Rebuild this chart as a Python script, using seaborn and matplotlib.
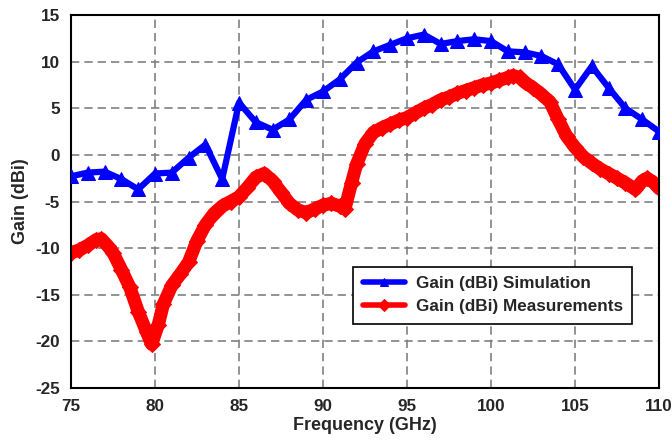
import matplotlib
matplotlib.use("Agg")
import matplotlib.pyplot as plt
import seaborn as sns
import pandas as pd

# Simulation data (markers every 1 GHz)
freq_sim = [75, 76, 77, 78, 79, 80, 81, 82, 83, 84, 85, 86, 87, 88, 89, 90, 91, 92,
            93, 94, 95, 96, 97, 98, 99, 100, 101, 102, 103, 104, 105, 106, 107, 108,
            109, 110]
gain_sim = [-2.3, -1.9, -1.8, -2.6, -3.7, -2.0, -1.9, -0.3, 1.1, -2.6, 5.6, 3.5, 2.7,
            3.8, 5.9, 6.8, 8.1, 9.9, 11.1, 11.8, 12.5, 12.9, 11.9, 12.2, 12.4, 12.2,
            11.1, 11.0, 10.6, 9.7, 7.0, 9.5, 7.2, 5.0, 3.8, 2.5]

# Measurement data
freq_meas = [75, 75.5, 76, 76.5, 76.8, 77.2, 77.5, 78, 78.5, 79, 79.5, 79.8, 80.2,
             80.5, 81, 81.5, 82, 82.5, 83, 83.5, 84, 84.5, 85, 85.5, 86, 86.5, 87,
             87.5, 88, 88.5, 89, 89.5, 90, 90.5, 91, 91.3, 91.7, 92, 92.5, 93, 93.5,
             94, 94.5, 95, 95.5, 96, 96.5, 97, 97.5, 98, 98.5, 99, 99.5, 100, 100.5,
             101, 101.3, 101.7, 102, 102.5, 103, 103.5, 104, 104.5, 105, 105.5, 106,
             106.5, 107, 107.5, 108, 108.6, 109, 109.3, 109.7, 110]
gain_meas = [-10.5, -10.2, -9.7, -9.1, -9.0, -9.8, -10.5, -12.3, -14.2, -16.8, -19.0,
             -20.3, -18.2, -16.0, -14.0, -12.8, -11.5, -9.2, -7.5, -6.3, -5.5, -5.0,
             -4.5, -3.5, -2.4, -2.0, -2.8, -4.0, -5.2, -5.9, -6.2, -5.8, -5.4, -5.2,
             -5.5, -5.8, -3.0, -1.0, 1.2, 2.4, 2.9, 3.3, 3.7, 4.0, 4.5, 5.0, 5.4, 5.9,
             6.2, 6.6, 6.9, 7.2, 7.5, 7.7, 8.0, 8.3, 8.5, 8.3, 7.8, 7.2, 6.5, 5.7, 3.8,
             2.0, 0.8, -0.2, -0.9, -1.5, -2.0, -2.5, -3.0, -3.7, -2.8, -2.5, -3.0, -3.6]

x_ticks = [75, 80, 85, 90, 95, 100, 105, 110]
y_ticks = [15, 10, 5, 0, -5, -10, -15, -20, -25]

sns.set_style("white")
plt.rcParams['font.family'] = ['Liberation Sans', 'DejaVu Sans']
plt.rcParams['font.weight'] = 'bold'
plt.rcParams['axes.unicode_minus'] = False

fig = plt.figure(figsize=(6.72, 4.43), dpi=100)
ax = fig.add_axes([71/672, 1-388/443, 588/672, 373/443])

df_sim = pd.DataFrame({"f": freq_sim, "g": gain_sim})
df_meas = pd.DataFrame({"f": freq_meas, "g": gain_meas})

sns.lineplot(data=df_sim, x="f", y="g", ax=ax, color="#0000FF", linewidth=4.5,
             marker="^", markersize=10, markeredgecolor="#0000FF",
             label="Gain (dBi) Simulation", zorder=3)
sns.lineplot(data=df_meas, x="f", y="g", ax=ax, color="#FF0000", linewidth=9.5,
             marker="D", markersize=8, markeredgecolor="#FF0000",
             label="Gain (dBi) Measurements", zorder=2)

ax.set_xlim(75, 110)
ax.set_ylim(-25, 15)
ax.set_xticks(x_ticks)
ax.set_yticks(y_ticks)
ax.grid(True, color="#808080", linestyle=(0, (5, 3)), linewidth=1.2)
ax.set_axisbelow(True)
for s in ax.spines.values():
    s.set_color("black")
    s.set_linewidth(1.5)
    s.set_visible(True)
ax.tick_params(axis="both", direction="out", length=5, width=1.2, color="black",
               labelsize=12.3, pad=3)
for lab in ax.get_xticklabels() + ax.get_yticklabels():
    lab.set_fontweight("bold")

ax.set_xlabel("Frequency (GHz)", fontsize=13, fontweight="bold", labelpad=2)
ax.set_ylabel("Gain (dBi)", fontsize=13, fontweight="bold", labelpad=4)

leg = ax.legend(loc="lower left", bbox_to_anchor=(0.48, 0.172), borderaxespad=0,
                fancybox=False, edgecolor="black", framealpha=1, fontsize=12.3,
                handlelength=2.5, borderpad=0.55, labelspacing=0.5,
                handletextpad=0.6)
leg.get_frame().set_linewidth(1.2)
for line in leg.get_lines():
    line.set_linewidth(4)
    line.set_markersize(6)
for t in leg.get_texts():
    t.set_fontweight("bold")

fig.savefig("out.png", dpi=100)
